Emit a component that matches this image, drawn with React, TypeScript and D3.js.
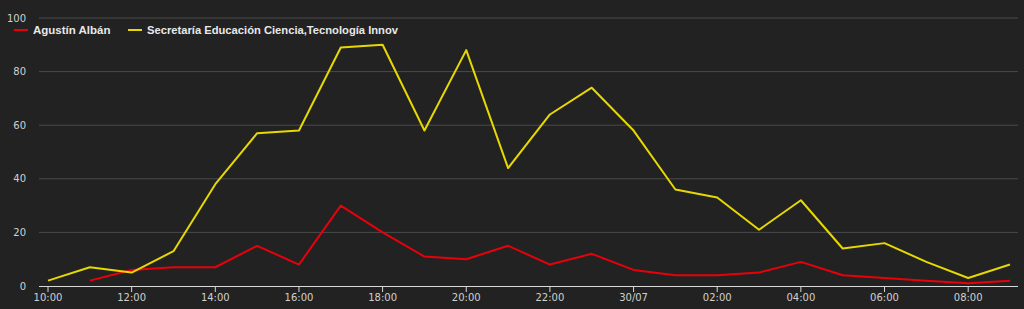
import React from "react";
import * as d3 from "d3";

const hours = ["10:00","11:00","12:00","13:00","14:00","15:00","16:00","17:00","18:00","19:00","20:00","21:00","22:00","23:00","30/07","01:00","02:00","03:00","04:00","05:00","06:00","07:00","08:00","09:00"];
const tickLabels = ["10:00","12:00","14:00","16:00","18:00","20:00","22:00","30/07","02:00","04:00","06:00","08:00"];
const yTicks = [0, 20, 40, 60, 80, 100];
const seriesNames = ["Agustín Albán", "Secretaría Educación Ciencia,Tecnología Innov"];
const seriesColors = ["#e8000b", "#e6d800"];
const redValues: (number | null)[] = [null,2,6,7,7,15,8,30,20,11,10,15,8,12,6,4,4,5,9,4,3,2,1,2];
const yellowValues: (number | null)[] = [2,7,5,13,38,57,58,89,90,58,88,44,64,74,58,36,33,21,32,14,16,9,3,8];

export default function App() {
  const W = 1024, H = 309;
  const left = 39, right = 1018, top = 18, bottom = 286;
  const x = d3.scalePoint<string>().domain(hours).range([48, 1010]);
  const y = d3.scaleLinear().domain([0, 100]).range([bottom, top]);
  const line = d3.line<number | null>()
    .defined(d => d !== null)
    .x((_, i) => x(hours[i]) as number)
    .y(d => y(d as number));
  const data = [redValues, yellowValues];
  const font = "'DejaVu Sans', sans-serif";
  const legendFont = "'Liberation Sans', Arial, sans-serif";
  return (
    <svg width={W} height={H} style={{ position: "absolute", left: 0, top: 0, background: "#222222" }}>
      <rect x={0} y={0} width={W} height={H} fill="#222222" />
      {yTicks.filter(t => t > 0).map(t => (
        <line key={t} x1={left} x2={right} y1={y(t)} y2={y(t)} stroke="#4a4a4a" strokeWidth={1} />
      ))}
      {yTicks.map(t => (
        <text key={t} x={26} y={y(t) + 3.5} textAnchor="end" fill="#d0d0d0" fontSize={10} fontFamily={font}>{t}</text>
      ))}
      <line x1={left} x2={right} y1={bottom + 0.5} y2={bottom + 0.5} stroke="#d8d8d8" strokeWidth={1} />
      {tickLabels.map(l => (
        <g key={l} transform={`translate(${x(l)},0)`}>
          <line x1={0} x2={0} y1={bottom} y2={bottom + 6} stroke="#d8d8d8" />
          <text x={0} y={bottom + 15} textAnchor="middle" fill="#d0d0d0" fontSize={10} fontFamily={font}>{l}</text>
        </g>
      ))}
      {data.map((d, i) => (
        <path key={i} d={line(d) || ""} fill="none" stroke={seriesColors[i]} strokeWidth={2} strokeLinejoin="round" />
      ))}
      <g fontFamily={legendFont} fontSize={11.5} fontWeight="bold" fill="#e8e8e8">
        <line x1={14} x2={28} y1={30} y2={30} stroke={seriesColors[0]} strokeWidth={2} />
        <text x={33} y={34}>{seriesNames[0]}</text>
        <line x1={128} x2={142} y1={30} y2={30} stroke={seriesColors[1]} strokeWidth={2} />
        <text x={147} y={34} textLength={251} lengthAdjust="spacingAndGlyphs">{seriesNames[1]}</text>
      </g>
    </svg>
  );
}
